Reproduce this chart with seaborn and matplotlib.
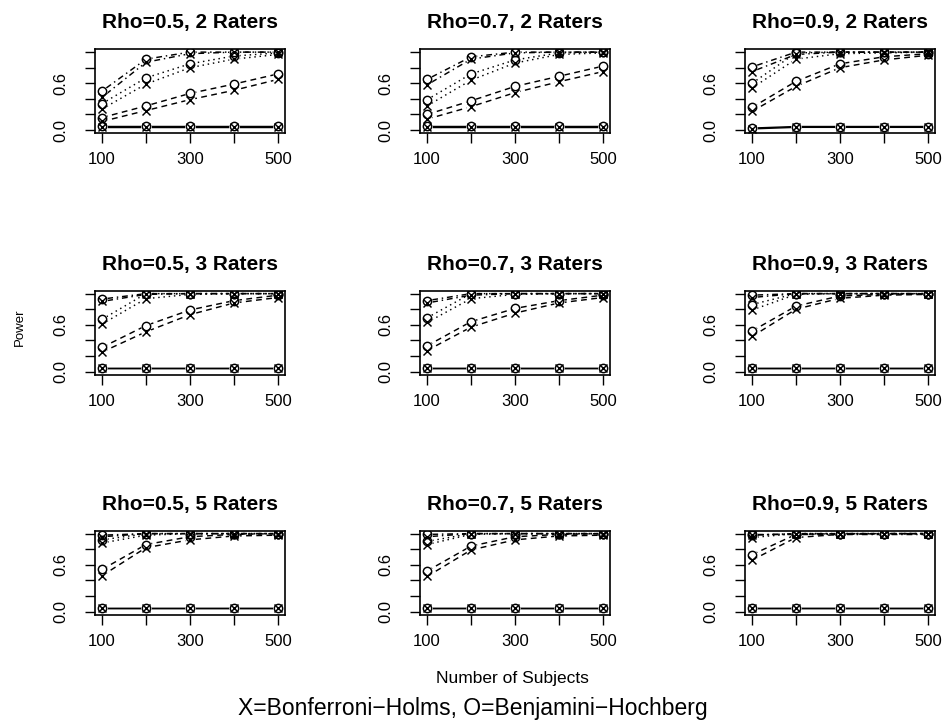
import matplotlib
matplotlib.use("Agg")
import matplotlib.pyplot as plt
import seaborn as sns

# ---------------- data ----------------
subjects = [100, 200, 300, 400, 500]
rhos = ["0.5", "0.7", "0.9"]
raters = [2, 3, 5]
effects = ["null", "dashed", "dotted", "dotdash"]
x_tick_labels = ["100", "", "300", "", "500"]
y_ticks = [0.0, 0.2, 0.4, 0.6, 0.8, 1.0]
y_tick_labels = ["0.0", "", "", "0.6", "", ""]

# O = Benjamini-Hochberg, X = Bonferroni-Holms ; rows: null, dashed, dotted, dotdash
bh_r05_k2 = [[0.050, 0.050, 0.050, 0.050, 0.050], [0.16, 0.31, 0.47, 0.59, 0.72],
             [0.34, 0.67, 0.85, 0.95, 0.99], [0.50, 0.91, 1.00, 1.00, 1.00]]
bf_r05_k2 = [[0.040, 0.040, 0.040, 0.040, 0.040], [0.11, 0.25, 0.39, 0.51, 0.65],
             [0.27, 0.59, 0.80, 0.91, 0.97], [0.42, 0.87, 0.98, 1.00, 1.00]]
bh_r07_k2 = [[0.050, 0.050, 0.050, 0.050, 0.050], [0.20, 0.375, 0.56, 0.69, 0.82],
             [0.39, 0.72, 0.90, 0.99, 1.00], [0.65, 0.94, 1.00, 1.00, 1.00]]
bf_r07_k2 = [[0.040, 0.040, 0.040, 0.040, 0.040], [0.14, 0.30, 0.48, 0.62, 0.75],
             [0.31, 0.64, 0.86, 0.97, 0.99], [0.58, 0.91, 0.99, 1.00, 1.00]]
bh_r09_k2 = [[0.025, 0.045, 0.045, 0.045, 0.045], [0.29, 0.625, 0.85, 0.94, 0.98],
             [0.60, 0.99, 1.00, 1.00, 1.00], [0.81, 1.00, 1.00, 1.00, 1.00]]
bf_r09_k2 = [[0.015, 0.035, 0.035, 0.035, 0.035], [0.24, 0.56, 0.80, 0.90, 0.96],
             [0.54, 0.91, 0.98, 0.99, 1.00], [0.75, 0.97, 1.00, 1.00, 1.00]]

bh_r05_k3 = [[0.050, 0.050, 0.050, 0.050, 0.050], [0.31, 0.59, 0.79, 0.91, 0.98],
             [0.67, 1.00, 1.00, 1.00, 1.00], [0.93, 1.00, 1.00, 1.00, 1.00]]
bf_r05_k3 = [[0.040, 0.040, 0.040, 0.040, 0.040], [0.25, 0.51, 0.73, 0.88, 0.95],
             [0.61, 0.935, 0.99, 1.00, 1.00], [0.90, 0.99, 1.00, 1.00, 1.00]]
bh_r07_k3 = [[0.050, 0.050, 0.050, 0.050, 0.050], [0.33, 0.64, 0.81, 0.91, 0.98],
             [0.69, 1.00, 1.00, 1.00, 1.00], [0.91, 1.00, 1.00, 1.00, 1.00]]
bf_r07_k3 = [[0.040, 0.040, 0.040, 0.040, 0.040], [0.27, 0.57, 0.75, 0.88, 0.95],
             [0.63, 0.935, 0.99, 1.00, 1.00], [0.88, 0.98, 1.00, 1.00, 1.00]]
bh_r09_k3 = [[0.050, 0.050, 0.050, 0.050, 0.050], [0.52, 0.84, 0.97, 0.99, 1.00],
             [0.86, 1.00, 1.00, 1.00, 1.00], [0.98, 1.00, 1.00, 1.00, 1.00]]
bf_r09_k3 = [[0.040, 0.040, 0.040, 0.040, 0.040], [0.45, 0.80, 0.94, 0.98, 0.99],
             [0.79, 0.99, 1.00, 1.00, 1.00], [0.95, 1.00, 1.00, 1.00, 1.00]]

bh_r05_k5 = [[0.050, 0.050, 0.050, 0.050, 0.050], [0.54, 0.86, 0.96, 0.99, 1.00],
             [0.92, 1.00, 1.00, 1.00, 1.00], [0.98, 1.00, 1.00, 1.00, 1.00]]
bf_r05_k5 = [[0.040, 0.040, 0.040, 0.040, 0.040], [0.46, 0.82, 0.92, 0.97, 0.98],
             [0.88, 0.98, 1.00, 1.00, 1.00], [0.96, 1.00, 1.00, 1.00, 1.00]]
bh_r07_k5 = [[0.050, 0.050, 0.050, 0.050, 0.050], [0.52, 0.84, 0.96, 0.99, 1.00],
             [0.90, 1.00, 1.00, 1.00, 1.00], [0.99, 1.00, 1.00, 1.00, 1.00]]
bf_r07_k5 = [[0.040, 0.040, 0.040, 0.040, 0.040], [0.45, 0.79, 0.92, 0.97, 0.98],
             [0.86, 0.99, 1.00, 1.00, 1.00], [0.96, 1.00, 1.00, 1.00, 1.00]]
bh_r09_k5 = [[0.050, 0.050, 0.050, 0.050, 0.050], [0.73, 0.99, 1.00, 1.00, 1.00],
             [0.98, 1.00, 1.00, 1.00, 1.00], [1.00, 1.00, 1.00, 1.00, 1.00]]
bf_r09_k5 = [[0.040, 0.040, 0.040, 0.040, 0.040], [0.66, 0.95, 0.99, 1.00, 1.00],
             [0.95, 1.00, 1.00, 1.00, 1.00], [0.98, 1.00, 1.00, 1.00, 1.00]]

panels = {
    (0, 0): (bh_r05_k2, bf_r05_k2), (0, 1): (bh_r07_k2, bf_r07_k2), (0, 2): (bh_r09_k2, bf_r09_k2),
    (1, 0): (bh_r05_k3, bf_r05_k3), (1, 1): (bh_r07_k3, bf_r07_k3), (1, 2): (bh_r09_k3, bf_r09_k3),
    (2, 0): (bh_r05_k5, bf_r05_k5), (2, 1): (bh_r07_k5, bf_r07_k5), (2, 2): (bh_r09_k5, bf_r09_k5),
}

# ---------------- style ----------------
sns.set_theme(style="white")
plt.rcParams["font.family"] = ["Liberation Sans", "DejaVu Sans"]

line_styles = {
    "null": "-",
    "dashed": (0, (4, 3)),
    "dotted": (0, (1, 2.6)),
    "dotdash": (0, (1, 2.6, 4, 2.6)),
}

W, H = 946, 725
fig = plt.figure(figsize=(W / 100, H / 100), dpi=100)

col_left = [95, 420, 745]
row_top = [49, 290.5, 530.5]
pw, ph = 190, 84

for (r, c), (bh, bf) in panels.items():
    l = col_left[c] / W
    b = 1 - (row_top[r] + ph) / H
    ax = fig.add_axes([l, b, pw / W, ph / H])

    for series in (bh, bf):
        for eff, vals in zip(effects, series):
            sns.lineplot(x=subjects, y=vals, ax=ax, color="black", linewidth=1.05,
                         linestyle=line_styles[eff], errorbar=None, zorder=2)
    # gaps around the points (like R type="b")
    for series in (bh, bf):
        for vals in series:
            ax.plot(subjects, vals, ls="none", marker="o", ms=7.5, mfc="white",
                    mec="white", mew=0, zorder=3)
    for vals in bh:
        ax.plot(subjects, vals, ls="none", marker="o", ms=6.0, mfc="none",
                mec="black", mew=1.05, zorder=4)
    for vals in bf:
        ax.plot(subjects, vals, ls="none", marker="x", ms=6.0, color="black",
                mew=1.05, zorder=4)

    ax.set_xlim(84, 516)
    ax.set_ylim(-0.038, 1.04)
    ax.set_xticks(subjects)
    ax.set_xticklabels(x_tick_labels)
    ax.set_yticks(y_ticks)
    ax.set_yticklabels(y_tick_labels, rotation=90, va="center")
    ax.tick_params(axis="both", direction="out", length=7, width=1.0, color="black",
                   labelsize=12, labelcolor="black", bottom=True, left=True)
    ax.tick_params(axis="x", pad=7)
    ax.tick_params(axis="y", pad=12)
    for sp in ax.spines.values():
        sp.set_color("black")
        sp.set_linewidth(1.2)
        sp.set_zorder(6)
    ax.set_xlabel("")
    ax.set_ylabel("")
    ax.set_title(f"Rho={rhos[c]}, {raters[r]} Raters", fontsize=15, fontweight="bold",
                 color="black", pad=15)

fig.text(19.5 / W, 1 - 327 / H, "Power", rotation=90, ha="center", va="center",
         fontsize=9.5, color="black")
fig.text(512 / W, 1 - 678 / H, "Number of Subjects", ha="center", va="center",
         fontsize=12.5, color="black")
fig.text(473 / W, 1 - 708 / H, "X=Bonferroni\u2212Holms, O=Benjamini\u2212Hochberg",
         ha="center", va="center", fontsize=16.5, color="black")

fig.savefig("out.png", dpi=100, facecolor="white")
